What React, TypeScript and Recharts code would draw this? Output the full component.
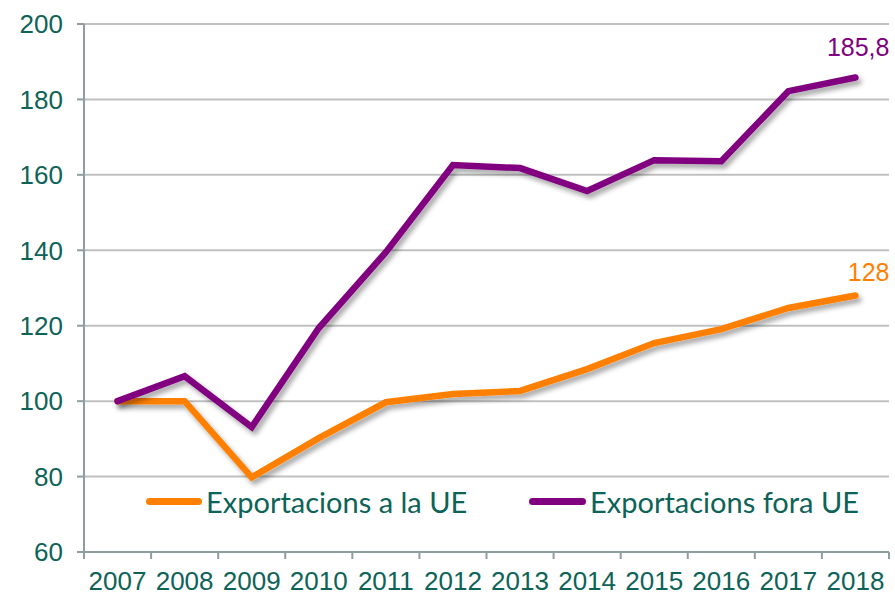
import React from 'react'
import { LineChart, Line, XAxis, YAxis, CartesianGrid, LabelList } from 'recharts'

const years = ['2007', '2008', '2009', '2010', '2011', '2012', '2013', '2014', '2015', '2016', '2017', '2018']
const exportsEU = [100, 100, 79.8, 90.2, 99.7, 101.9, 102.7, 108.5, 115.4, 119.1, 124.7, 128]
const exportsNonEU = [100, 106.6, 93.1, 119.4, 139.5, 162.6, 161.8, 155.7, 163.9, 163.6, 182.2, 185.8]
const yTicks = [60, 80, 100, 120, 140, 160, 180, 200]

const ORANGE = '#FF8000'
const PURPLE = '#800080'
const TEXT = '#0E6358'
const AXIS = '#8E9E9E'
const FONT = 'Liberation Sans, Arial, sans-serif'
const BAND = 805 / years.length

const data = years.map((year, i) => ({
  year,
  eu: exportsEU[i],
  nonEu: exportsNonEU[i],
}))

// x ticks: label centred on the category, tick marks on the category boundaries
const XTick = (props: any) => {
  const { x, y, payload, index } = props
  const left = x - BAND / 2
  return (
    <g>
      <line x1={left} y1={y - 8} x2={left} y2={y - 1} stroke={AXIS} strokeWidth={2} />
      {index === years.length - 1 && (
        <line x1={left + BAND} y1={y - 8} x2={left + BAND} y2={y - 1} stroke={AXIS} strokeWidth={2} />
      )}
      <text x={x} y={y + 30} textAnchor="middle" fill={TEXT} fontSize={26} fontFamily={FONT}>
        {payload.value}
      </text>
    </g>
  )
}

const endLabel = (color: string, text: string, dy: number) => (props: any) => {
  const { x, y, index } = props
  if (index !== years.length - 1) return null
  return (
    <text x={x + 34} y={y + dy} textAnchor="end" fill={color} fontSize={25} fontFamily={FONT}>
      {text}
    </text>
  )
}

export default function App() {
  return (
    <div style={{ position: 'absolute', left: 0, top: 0, width: 895, height: 593, background: '#fff' }}>
      <LineChart width={895} height={593} data={data} margin={{ top: 24, right: 6, bottom: 0, left: 0 }}>
        <defs>
          <filter id="lineShadow" x="-10%" y="-10%" width="120%" height="130%">
            <feDropShadow dx="3" dy="4" stdDeviation="2.5" floodColor="#000" floodOpacity="0.35" />
          </filter>
        </defs>
        <CartesianGrid vertical={false} stroke="#C0C0C0" strokeWidth={2} />
        <XAxis
          dataKey="year"
          height={41}
          stroke={AXIS}
          strokeWidth={2}
          tickLine={false}
          tick={<XTick />}
          interval={0}
          padding={{ left: BAND / 2, right: BAND / 2 }}
        />
        <YAxis
          domain={[60, 200]}
          ticks={yTicks}
          width={84}
          stroke={AXIS}
          strokeWidth={2}
          tickSize={7}
          tickMargin={14}
          tick={{ fill: TEXT, fontSize: 26, fontFamily: FONT }}
        />
        <Line
          dataKey="eu"
          stroke={ORANGE}
          strokeWidth={6.5}
          dot={false}
          strokeLinecap="round"
          filter="url(#lineShadow)"
          isAnimationActive={false}
        >
          <LabelList dataKey="eu" content={endLabel(ORANGE, '128', -15)} />
        </Line>
        <Line
          dataKey="nonEu"
          stroke={PURPLE}
          strokeWidth={6.5}
          dot={false}
          strokeLinecap="round"
          filter="url(#lineShadow)"
          isAnimationActive={false}
        >
          <LabelList dataKey="nonEu" content={endLabel(PURPLE, '185,8', -22)} />
        </Line>
      </LineChart>
      <div
        style={{
          position: 'absolute',
          top: 484,
          left: 0,
          width: 895,
          height: 36,
          fontFamily: 'Lato, sans-serif',
          fontSize: 29,
          color: TEXT,
        }}
      >
        <div style={{ position: 'absolute', left: 146, top: 0, display: 'flex', alignItems: 'center' }}>
          <span style={{ display: 'inline-block', width: 56, height: 7, borderRadius: 4, background: ORANGE, marginRight: 4 }} />
          <span>Exportacions a la UE</span>
        </div>
        <div style={{ position: 'absolute', left: 529, top: 0, display: 'flex', alignItems: 'center' }}>
          <span style={{ display: 'inline-block', width: 57, height: 7, borderRadius: 4, background: PURPLE, marginRight: 4 }} />
          <span>Exportacions fora UE</span>
        </div>
      </div>
    </div>
  )
}
